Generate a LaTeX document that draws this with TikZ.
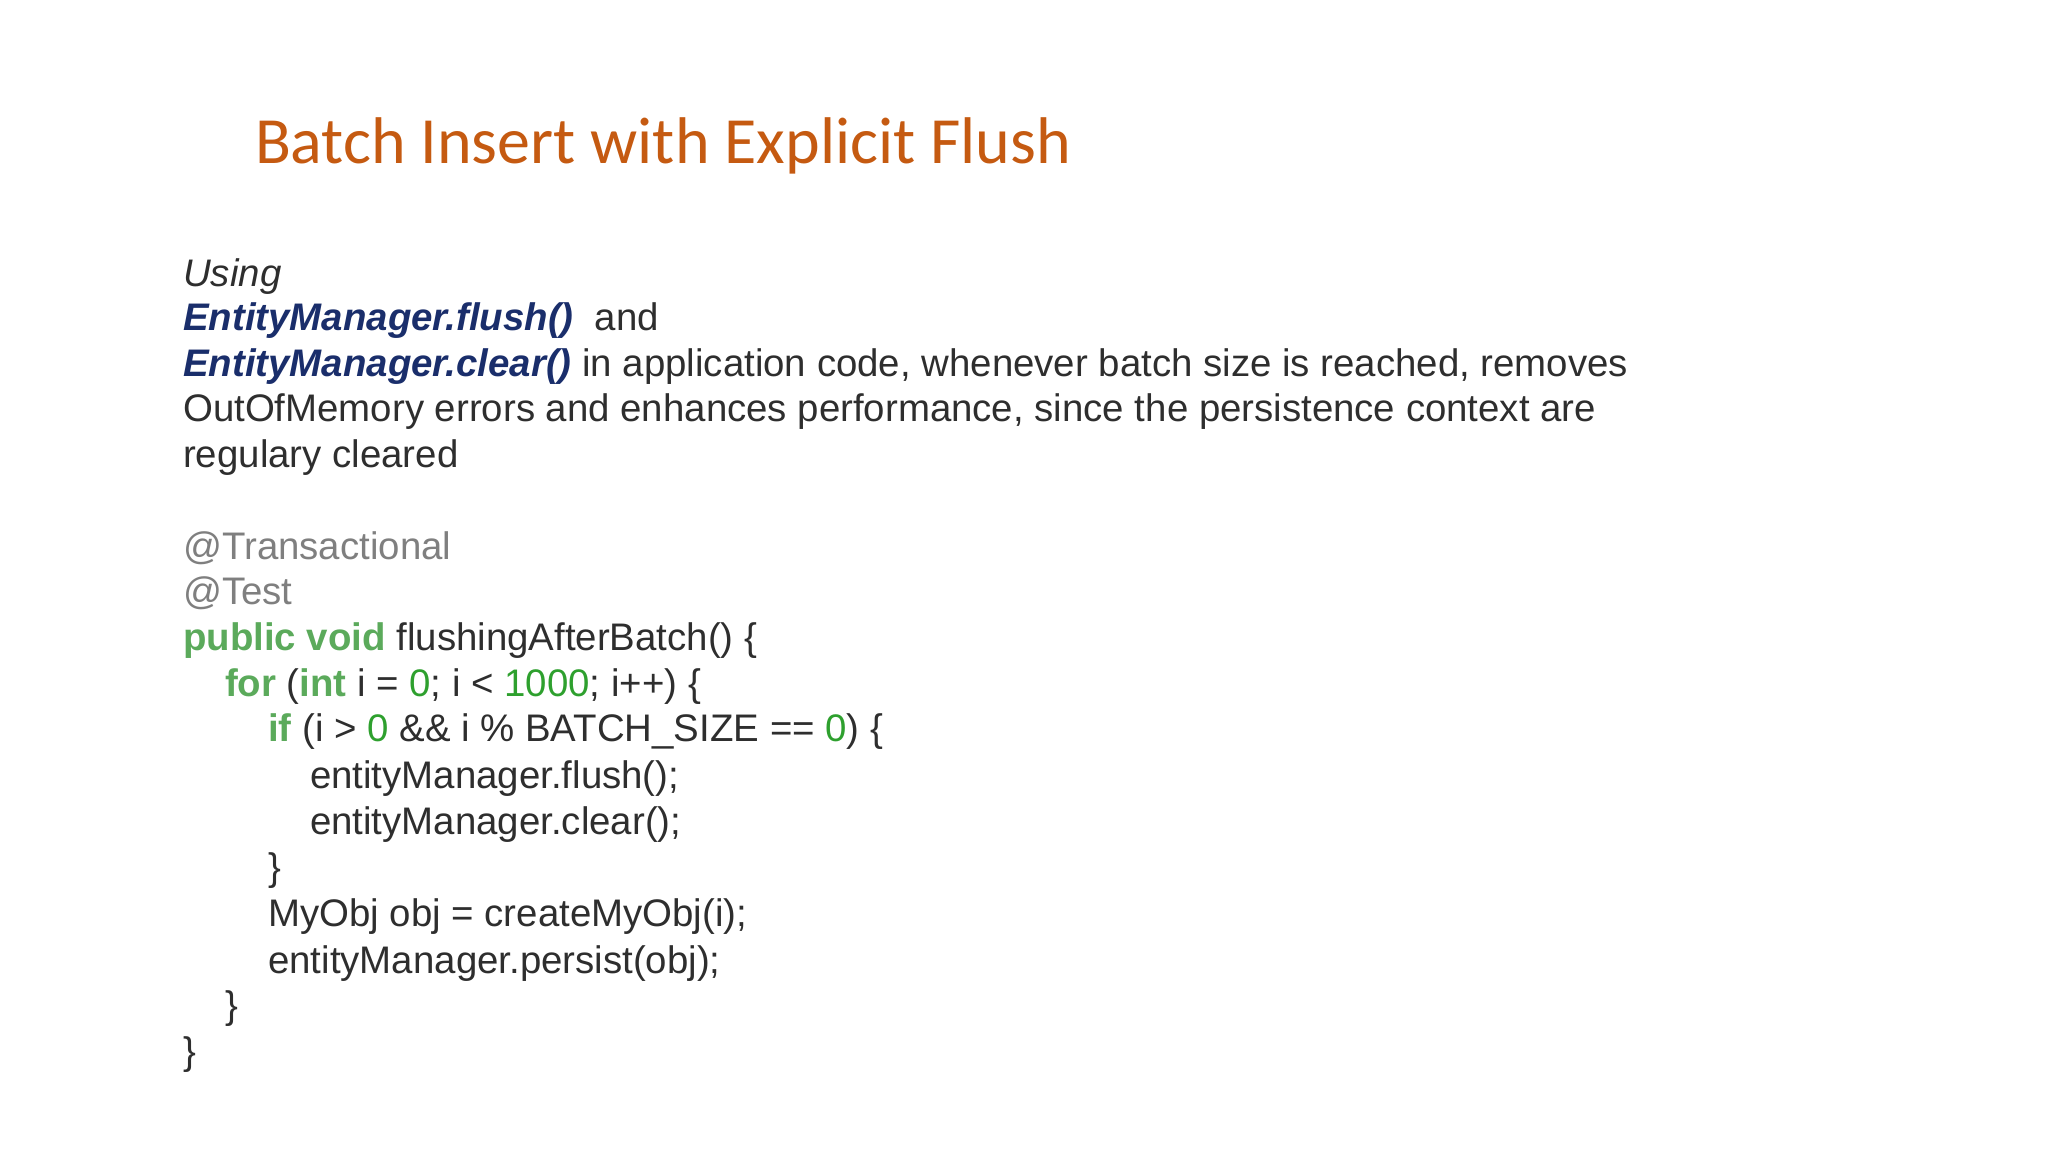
\documentclass[tikz,border=0pt]{standalone}
\usepackage{fontspec}
\setmainfont{Liberation Sans}
\newfontfamily\titlefont{Carlito}
\definecolor{ttl}{HTML}{C55A11}
\definecolor{txt}{HTML}{2E2E2E}
\definecolor{kw}{HTML}{1A2E6B}
\definecolor{ann}{HTML}{7F7F7F}
\definecolor{grn}{HTML}{5BAA5B}
\definecolor{num}{HTML}{2EA02E}
\newcommand{\K}[1]{\textcolor{grn}{\bfseries #1}}
\newcommand{\N}[1]{\textcolor{num}{#1}}
\begin{document}
\begin{tikzpicture}[x=1pt,y=1pt,
  ln/.style={anchor=base west,inner sep=0pt,font=\fontsize{19.2}{23}\selectfont,text=txt}]
\useasboundingbox (0,0) rectangle (1024,-576);
\node[anchor=base west,inner sep=0pt,font=\titlefont\fontsize{33}{40}\selectfont,text=ttl] (title) at (127.3,-81.6) {Batch Insert with Explicit Flush};
\node[ln] (p1) at (91.4,-143.0) {\itshape Using};
\node[ln] (p2) at (91.4,-165.2) {\textcolor{kw}{\bfseries\itshape EntityManager.flush()}\ \ and};
\node[ln] (p3) at (91.4,-188.1) {\textcolor{kw}{\bfseries\itshape EntityManager.clear()} in application code, whenever batch size is reached, removes};
\node[ln] (p4) at (91.4,-210.9) {OutOfMemory errors and enhances performance, since the persistence context are};
\node[ln] (p5) at (91.4,-233.8) {regulary cleared};
\node[ln,text=ann] (c1) at (91.4,-279.5) {@Transactional};
\node[ln,text=ann] (c2) at (91.4,-302.3) {@Test};
\node[ln] (c3) at (91.4,-325.2) {\K{public void} flushingAfterBatch() \{};
\node[ln] (c4) at (112.3,-348.0) {\K{for} (\K{int} i = \N{0}; i < \N{1000}; i++) \{};
\node[ln] (c5) at (133.9,-370.9) {\K{if} (i > \N{0} \&\& i \% BATCH\_SIZE == \N{0}) \{};
\node[ln] (c6) at (154.8,-394.4) {entityManager.flush();};
\node[ln] (c7) at (154.8,-417.3) {entityManager.clear();};
\node[ln] (c8) at (133.9,-440.1) {\}};
\node[ln] (c9) at (133.9,-463.0) {MyObj obj = createMyObj(i);};
\node[ln] (c10) at (133.9,-486.5) {entityManager.persist(obj);};
\node[ln] (c11) at (112.3,-509.3) {\}};
\node[ln] (c12) at (91.4,-532.2) {\}};
\end{tikzpicture}
\end{document}
